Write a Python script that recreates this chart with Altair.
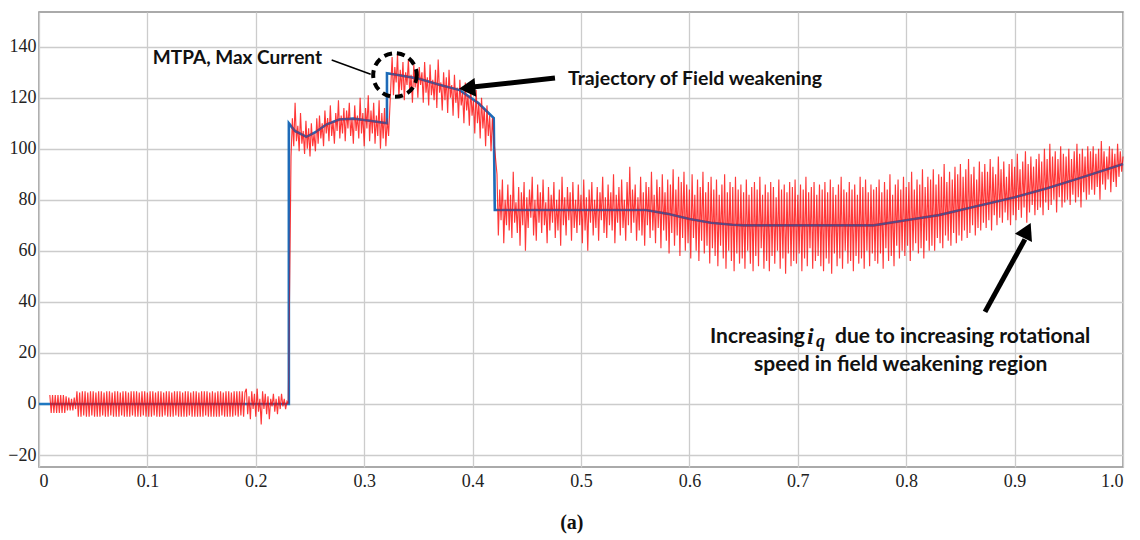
import altair as alt
import numpy as np
import pandas as pd

# ---- reference (blue) trajectory ----
blue_x = [0, 0.2305, 0.2305, 0.236, 0.2467, 0.255, 0.265, 0.277, 0.29, 0.305, 0.321, 0.321,
          0.33, 0.35, 0.37, 0.388, 0.405, 0.4195, 0.4205, 0.45, 0.50, 0.56, 0.58, 0.60, 0.62,
          0.64, 0.65, 0.70, 0.77, 0.80, 0.83, 0.86, 0.90, 0.93, 0.96, 1.0]
blue_y = [0, 0, 110, 107, 104.7, 106.5, 109.5, 111.5, 111.8, 111, 110, 129.6,
          129, 127.5, 125, 123, 118, 112, 76, 76, 76, 76, 74.5, 72.5, 71,
          70.2, 70, 70, 70, 72, 74, 77, 81, 84.5, 88.5, 94]

# ---- measured (red) current, read segment by segment (sample step 0.00125) ----
red_step = 0.00125
seg_a_start = 0.010
seg_a = [3.5, -3.5, 3.5, -3.5, 3.5, -3.5, 3.5, -3.5, 3.5, -3.5, 3.5, -3.5, 3,
         -2.5, 2.5, -2.5, 2, -2.5, 2.5, -2,
         5, -5, 4.5, -5, 5, -4.5, 5, -5, 4.5, -5,
         5, -4.5, 5, -5, 4.5, -5, 5, -5, 5, -4.5,
         4.5, -5, 5, -5, 5, -4.5, 4.5, -5, 5, -5,
         5, -5, 4.5, -4.5, 5, -5, 5, -5, 4.5, -5,
         5, -4.5, 5, -5, 5, -5, 4.5, -5, 5, -4.5,
         5, -5, 4.5, -5, 5, -5, 5, -4.5, 4.5, -5,
         5, -5, 5, -5, 4.5, -4.5, 5, -5, 5, -5,
         4.5, -5, 5, -4.5, 5, -5, 5, -5, 4.5, -5,
         5, -5, 5, -4.5, 4.5, -5, 5, -5, 5, -5,
         4.5, -5, 5, -5, 5, -4.5, 5, -5, 4.5, -5,
         5, -5, 4.5, -5, 5, -5, 5, -4.5, 4.5, -5,
         5, -5, 5, -5, 4.5, -5, 5, -4.5, 5, -5,
         5, -4.5, 5, -5, 4.5,
         6, -4, 3, -6, 5, -2, 4, -5, 6, -3, 2, -8, 5, -2, 4, -4,
         3, -6, 2, -1, 4, -3, 2, -4, 3, -2, 4, -1, 2, -2, 1, 0]
seg_b_start = 0.2325
seg_b = [97, 112, 101, 118, 103, 109, 99, 114, 102, 107, 98, 111, 100, 108, 97, 110, 101, 106, 99, 112,
         102, 113, 104, 110, 101, 115, 106, 112, 103, 117, 105, 111, 102, 114, 107, 119, 104, 113, 106, 116,
         103, 115, 108, 118, 105, 112, 102, 117, 107, 113, 104, 120, 106, 114, 101, 116, 108, 121, 103, 115,
         106, 118, 102, 113, 105, 119, 100, 114, 104, 116, 101, 112, 105]
seg_c_start = 0.3245
seg_c = [124, 136, 121, 132, 126, 137, 120, 131, 123, 134, 119, 130, 125, 135, 122, 129, 118, 133, 124, 131,
         120, 132, 125, 130, 118, 134, 122, 128, 117, 133, 121, 127, 119, 131, 116, 135, 122, 126, 115, 130,
         119, 128, 114, 131, 120, 125, 113, 129, 118, 124, 112, 127, 117, 122, 110, 126, 115, 121, 109, 124,
         113, 119, 106, 123, 110, 118, 104, 120, 108, 116, 101, 117, 105, 113, 99, 112, 104]
seg_d_start = 0.4225
seg_d = [90, 66, 84, 72, 88, 63, 80, 70, 86, 68, 82, 65, 91, 71, 79, 67, 85, 62, 83, 70,
         87, 60, 81, 69, 84, 73, 89, 66, 80, 64, 86, 71, 83, 67, 88, 70, 79, 63, 85, 68,
         82, 71, 87, 65, 80, 68, 84, 62, 89, 70, 81, 66, 85, 72, 83, 64, 87, 69, 80, 67,
         86, 70, 82, 63, 88, 68, 81, 60, 84, 71, 87, 66, 80, 69, 85, 64, 83, 72, 89, 67,
         81, 65, 86, 70, 83, 68, 90, 63, 82, 71, 85, 66, 88, 69, 80, 64, 87, 70, 93, 67,
         84, 71, 86, 64, 81, 68, 89, 66, 83, 62, 87, 70, 85, 65, 91, 68, 82, 63, 88, 69,
         85, 61, 90, 68, 83, 64, 88, 59, 86, 67, 92, 62, 84, 66, 89, 58, 87, 65, 91, 60,
         86, 63, 84, 57, 90, 65, 82, 60, 88, 56, 85, 64, 91, 59, 83, 62, 87, 55, 89, 61,
         84, 58, 88, 54, 82, 62, 86, 57, 90, 53, 83, 60, 87, 56, 85, 52, 89, 59, 84, 55,
         86, 57, 83, 53, 88, 60, 82, 55, 85, 52, 87, 58, 84, 54, 89, 61, 82, 53, 86, 56,
         83, 52, 87, 58, 85, 55, 81, 60, 88, 53, 84, 57, 86, 51, 83, 59, 87, 54, 85, 56,
         88, 55, 82, 59, 86, 52, 84, 57, 89, 54, 83, 61, 85, 53, 87, 56, 82, 58, 86, 54,
         84, 52, 87, 57, 83, 55, 88, 51, 85, 59, 82, 54, 86, 57, 89, 53, 84, 60, 83, 55,
         87, 56, 84, 52, 86, 58, 82, 55, 89, 57, 85, 53, 88, 60, 83, 54, 86, 59, 84, 56,
         85, 55, 88, 59, 83, 53, 87, 61, 84, 56, 90, 58, 82, 54, 86, 62, 88, 57, 84, 60,
         89, 58, 85, 62, 87, 56, 91, 60, 84, 63, 88, 59, 86, 61, 92, 57, 85, 64, 89, 60,
         88, 62, 92, 60, 86, 65, 90, 63, 89, 61, 94, 66, 87, 64, 91, 62, 88, 67, 93, 63,
         90, 66, 94, 64, 89, 68, 92, 65, 96, 67, 90, 70, 93, 66, 88, 69, 95, 68, 91, 71,
         94, 69, 91, 72, 96, 68, 93, 74, 90, 70, 97, 73, 92, 71, 95, 75, 89, 72, 94, 70,
         96, 74, 93, 72, 98, 76, 92, 73, 95, 77, 99, 71, 94, 75, 97, 78, 93, 74, 96, 76,
         98, 77, 95, 74, 100, 79, 96, 76, 102, 78, 97, 80, 99, 75, 96, 81, 101, 77, 98, 79,
         97, 80, 100, 78, 96, 82, 99, 79, 102, 81, 98, 77, 100, 83, 97, 80, 101, 82, 99, 84,
         101, 82, 98, 85, 100, 80, 103, 86, 99, 84, 97, 88, 101, 83, 100, 87, 98, 85, 102, 89,
         99, 91, 97]

x_ticks = [0, 0.1, 0.2, 0.3, 0.4, 0.5, 0.6, 0.7, 0.8, 0.9, 1.0]
y_ticks = [-20, 0, 20, 40, 60, 80, 100, 120, 140]
x_domain = [0, 1]
y_domain = [-24.7, 153.6]

# ---- annotations ----
mtpa_label = "MTPA, Max Current"
traj_label = "Trajectory of Field weakening"
note_pre = "Increasing"
note_i = "i"
note_q = "q"
note_post = "due to increasing rotational"
note_line2 = "speed in field weakening region"
panel_label = "(a)"

# build tables
red_rows = []
for start, vals in [(seg_a_start, seg_a), (seg_b_start, seg_b), (seg_c_start, seg_c), (seg_d_start, seg_d)]:
    for i, v in enumerate(vals):
        red_rows.append({"t": start + i * red_step, "v": v})
red_df = pd.DataFrame(red_rows)
red_df["o"] = np.arange(len(red_df))

blue_df = pd.DataFrame({"t": blue_x, "v": blue_y, "o": np.arange(len(blue_x))})

xs = alt.Scale(domain=x_domain, nice=False, zero=False)
ys = alt.Scale(domain=y_domain, nice=False, zero=False)

serif = "Liberation Serif, Times New Roman, serif"
sans = "Lato"

xaxis = alt.Axis(values=x_ticks, title=None, grid=True, gridColor="#cccccc", gridWidth=1.3,
                 labelFont=serif, labelFontSize=18, labelColor="#222222", labelPadding=5,
                 ticks=False, domain=False,
                 labelExpr="datum.value == 1 ? '1.0' : format(datum.value, '')")
yaxis = alt.Axis(values=y_ticks, title=None, grid=True, gridColor="#cccccc", gridWidth=1.3,
                 labelFont=serif, labelFontSize=18, labelColor="#222222", labelPadding=3,
                 ticks=False, domain=False, format="d")

blue = alt.Chart(blue_df).mark_line(color="#1f78c1", strokeWidth=2.6).encode(
    x=alt.X("t:Q", scale=xs, axis=xaxis),
    y=alt.Y("v:Q", scale=ys, axis=yaxis),
    order="o:Q",
)
red = alt.Chart(red_df).mark_line(color="#ff0000", strokeWidth=1.15, opacity=0.78).encode(
    x=alt.X("t:Q", scale=xs),
    y=alt.Y("v:Q", scale=ys),
    order="o:Q",
)
blue_over = alt.Chart(blue_df).transform_filter("datum.t >= 0.23").mark_line(
    color="#1f5fb0", strokeWidth=1.8, opacity=0.6).encode(
    x=alt.X("t:Q", scale=xs),
    y=alt.Y("v:Q", scale=ys),
    order="o:Q",
)

# annotation layers
leader_df = pd.DataFrame({"t": [0.270, 0.306], "v": [134.8, 129.2], "o": [0, 1]})
leader = alt.Chart(leader_df).mark_line(color="black", strokeWidth=1.5).encode(
    x=alt.X("t:Q", scale=xs), y=alt.Y("v:Q", scale=ys), order="o:Q")

circle_df = pd.DataFrame({"t": [0.3284], "v": [128.9]})
circle = alt.Chart(circle_df).mark_point(shape="circle", size=1900, filled=False, color="black",
                                         strokeWidth=4, strokeDash=[8, 5], opacity=1).encode(
    x=alt.X("t:Q", scale=xs), y=alt.Y("v:Q", scale=ys))

arrow1_df = pd.DataFrame({"t": [0.476, 0.400], "v": [127.7, 124.2], "o": [0, 1]})
arrow1 = alt.Chart(arrow1_df).mark_line(color="black", strokeWidth=5).encode(
    x=alt.X("t:Q", scale=xs), y=alt.Y("v:Q", scale=ys), order="o:Q")
head1_df = pd.DataFrame({"t": [0.395], "v": [123.8]})
head1 = alt.Chart(head1_df).mark_point(shape="triangle-up", size=360, filled=True, color="black",
                                       angle=265, opacity=1).encode(
    x=alt.X("t:Q", scale=xs), y=alt.Y("v:Q", scale=ys))

arrow2_df = pd.DataFrame({"t": [0.8727, 0.9095], "v": [36.1, 64.5], "o": [0, 1]})
arrow2 = alt.Chart(arrow2_df).mark_line(color="black", strokeWidth=5).encode(
    x=alt.X("t:Q", scale=xs), y=alt.Y("v:Q", scale=ys), order="o:Q")
head2_df = pd.DataFrame({"t": [0.9115], "v": [68.0]})
head2 = alt.Chart(head2_df).mark_point(shape="triangle-up", size=360, filled=True, color="black",
                                       angle=26, opacity=1).encode(
    x=alt.X("t:Q", scale=xs), y=alt.Y("v:Q", scale=ys))


def label(text, t, v, align="left", font=sans, size=19, weight="bold", style="normal", dy=0):
    d = pd.DataFrame({"t": [t], "v": [v], "s": [text]})
    return alt.Chart(d).mark_text(align=align, baseline="middle", font=font, fontSize=size,
                                  fontWeight=weight, fontStyle=style, color="#111111", dy=dy).encode(
        x=alt.X("t:Q", scale=xs), y=alt.Y("v:Q", scale=ys), text="s:N")


t_mtpa = label(mtpa_label, 0.105, 135.5, size=19)
t_traj = label(traj_label, 0.488, 127.5, size=19.5)
t_pre = label(note_pre, 0.7066, 26.3, align="right", size=21)
t_i = label(note_i, 0.7115, 26.3, align="center", font=serif, size=24, style="italic")
t_q = label(note_q, 0.7210, 26.3, align="center", font=serif, size=18, style="italic", dy=5)
t_post = label(note_post, 0.7343, 26.3, size=21)
t_line2 = label(note_line2, 0.7949, 15.2, align="center", size=21)
t_panel = label(panel_label, 0.4915, -46.5, align="center", font=serif, size=20)

chart = alt.layer(
    blue, red, blue_over, leader, circle, arrow1, head1, arrow2, head2,
    t_mtpa, t_traj, t_pre, t_i, t_q, t_post, t_line2, t_panel,
).properties(
    width=1084, height=455,
    padding={"left": 39, "top": 12, "right": 17, "bottom": 73},
    autosize=alt.AutoSizeParams(type="none"),
    background="white",
).configure_view(stroke="#8f8f8f", strokeWidth=1.5)

chart.save("out.html", embed_options={"renderer": "svg", "actions": False})
